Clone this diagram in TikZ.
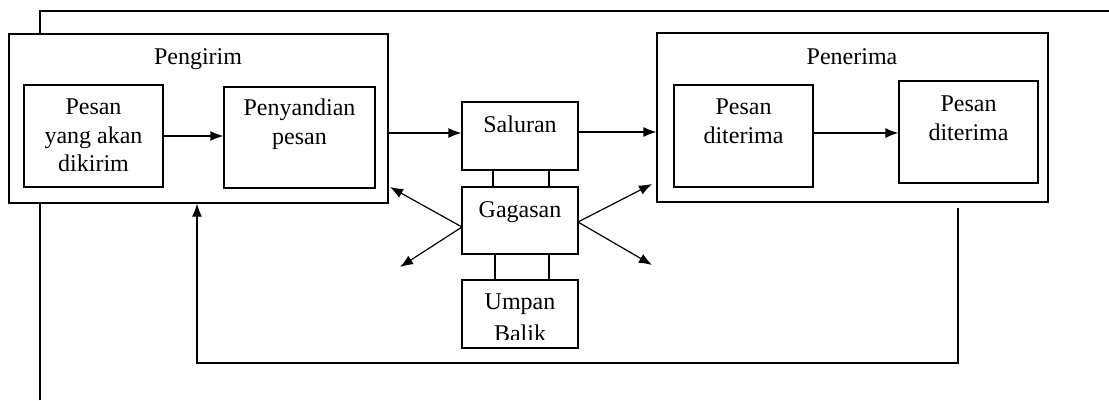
\documentclass[tikz,border=0pt]{standalone}
\usepackage{fontspec}
\setmainfont{Liberation Serif}
\usetikzlibrary{arrows.meta}
\tikzset{
  font=\fontsize{24}{28.5}\selectfont,
  box/.style = {
    draw,
    line width=1.2pt,
    inner sep=0pt
  },
  boxtext/.style = {
    align=center,
    inner sep=0pt,
    anchor=north
  },
  flow/.style = {
    line width=1.2pt,
    -{Latex[length=13pt,width=10pt]}
  },
  wire/.style = {
    line width=1.2pt
  }
}

\begin{document}
\begin{tikzpicture}[x=1pt,y=1pt]

      \useasboundingbox (0,0) rectangle (1109,400);

      % outer frame
      \coordinate (f1) at (40,0);
      \coordinate (f2) at (1109,389);
      \draw[wire] (f1) |- (f2);

      % sender side
      \node[box, fill=white, minimum width=379, minimum height=169] (peng) at (198.5,281.5) {};
      \node[anchor=base, inner sep=0pt] (pengt) at (198,335) {Pengirim};
      \node[box, minimum width=139, minimum height=102] (a1) at (93.5,264) {};
      \node[boxtext] (a1t) at (93.5,301) {Pesan\\yang akan\\dikirim};
      \node[box, minimum width=151, minimum height=101] (a2) at (299.5,262.5) {};
      \node[boxtext] (a2t) at (299.5,301) {Penyandian\\pesan};

      % middle column
      \node[box, minimum width=116, minimum height=68] (sal) at (520,264) {};
      \node[anchor=base, inner sep=0pt] (salt) at (520,268) {Saluran};
      \node[box, minimum width=116, minimum height=67] (gag) at (520,179.5) {};
      \node[anchor=base, inner sep=0pt] (gagt) at (520,183) {Gagasan};
      \node[box, minimum width=116, minimum height=68] (ump) at (520,86) {};
      \begin{scope}
        \clip (462,61) rectangle (578,120);
        \node[boxtext, font=\fontsize{24}{32}\selectfont] (umpt) at (520,106) {Umpan\\Balik};
      \end{scope}

      % receiver side
      \node[box, fill=white, minimum width=391, minimum height=169] (pen) at (852.5,282.5) {};
      \node[anchor=base, inner sep=0pt] (pent) at (852,335) {Penerima};
      \node[box, minimum width=139, minimum height=102] (b1) at (743.5,264) {};
      \node[boxtext] (b1t) at (743.5,301) {Pesan\\diterima};
      \node[box, minimum width=139, minimum height=102] (b2) at (968.5,268) {};
      \node[boxtext] (b2t) at (968.5,304) {Pesan\\diterima};

      \draw[flow] (a1.east) -- (a1.east -| a2.west);
      \draw[flow] (b1.east |- 0,267) -- (b2.west |- 0,267);
      \draw[flow] ([yshift=3]sal.west -| peng.east) -- ([yshift=3]sal.west);
      \draw[flow] ([yshift=4]sal.east) -- ([yshift=4]sal.east -| pen.west);

      % links between middle boxes
      \draw[wire] ([xshift=-27]sal.south) -- ([xshift=-27]gag.north);
      \draw[wire] ([xshift=29]sal.south) -- ([xshift=29]gag.north);
      \draw[wire] ([xshift=-25]gag.south) -- ([xshift=-25]ump.north);
      \draw[wire] ([xshift=29]gag.south) -- ([xshift=29]ump.north);

      % spreading arrows
      \coordinate (g1) at (462,173);
      \coordinate (g2) at (578,178);
      \coordinate (e1) at (390,213);
      \coordinate (e2) at (400,133);
      \coordinate (e3) at (652,216);
      \coordinate (e4) at (652,135);
      \draw[flow] (g1) -- (e1);
      \draw[flow] (g1) -- (e2);
      \draw[flow] (g2) -- (e3);
      \draw[flow] (g2) -- (e4);

      % feedback loop
      \coordinate (fb1) at (958,192);
      \coordinate (fb2) at (197,37);
      \draw[flow] (fb1) |- (fb2) -- (peng.south -| fb2);

    \end{tikzpicture}
\end{document}
